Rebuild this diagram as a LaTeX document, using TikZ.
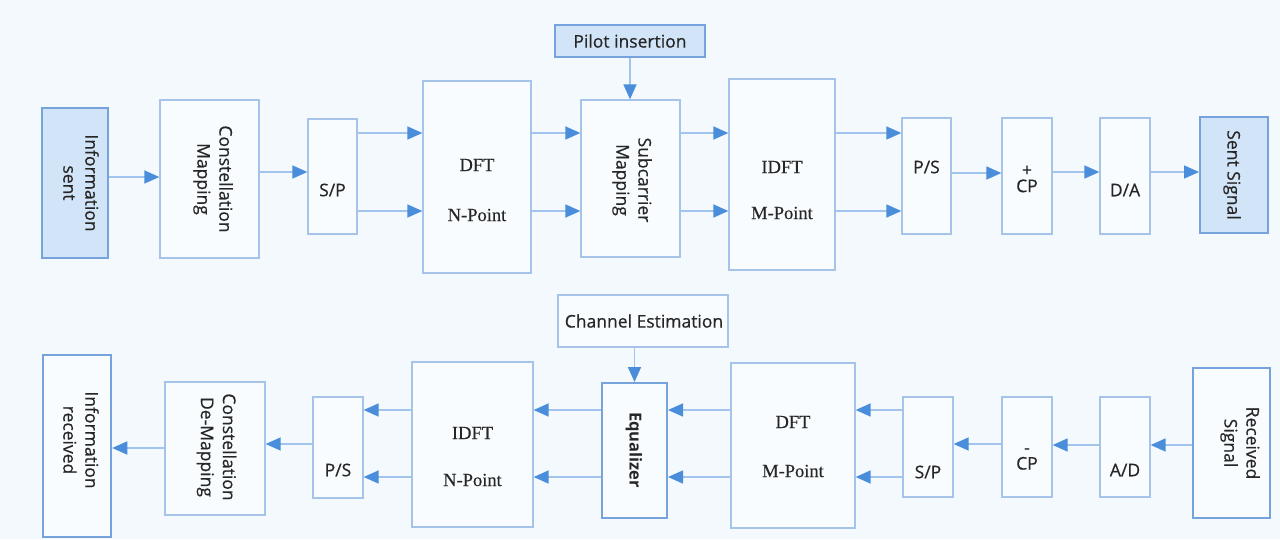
\documentclass[tikz,border=0pt]{standalone}
\usepackage{fontspec}
\setmainfont{Open Sans}
\newfontfamily\lblfont{Open Sans}[FakeBold=0.5]
\newfontfamily\serfont{Liberation Serif}[FakeBold=0.3]
\usetikzlibrary{arrows.meta}
\definecolor{bgc}{HTML}{F3F9FD}
\definecolor{boxfill}{HTML}{F8FCFF}
\definecolor{boxline}{HTML}{A6C4EA}
\definecolor{darkline}{HTML}{76A3DB}
\definecolor{accfill}{HTML}{D2E4F7}
\definecolor{linec}{HTML}{A3C4EC}
\definecolor{arrowc}{HTML}{4A8DDB}
\definecolor{txt}{HTML}{262626}
\tikzset{
  box/.style={draw=boxline, line width=1.3pt, fill=boxfill, inner sep=0pt},
  accbox/.style={draw=darkline, line width=2pt, fill=accfill, inner sep=0pt},
  strongbox/.style={draw=darkline, line width=2.5pt, fill=boxfill, inner sep=0pt},
  lbl/.style={text=txt, font=\lblfont\fontsize{17.5}{22}\selectfont, inner sep=0pt, align=center},
  slbl/.style={text=txt, font=\serfont\fontsize{18.5}{22}\selectfont, inner sep=0pt},
  arr/.style={draw=linec, line width=1.5pt, -{Triangle[length=15pt,width=13pt,color=arrowc]}}
}
\begin{document}
\begin{tikzpicture}[x=1pt,y=-1pt]
\fill[bgc] (0,0) rectangle (1280,539);
\useasboundingbox (0,0) rectangle (1280,539);

% ---------- top row ----------
\node[accbox, minimum width=66pt, minimum height=150pt] (info) at (75,183) {};
\node[box, minimum width=99pt, minimum height=158pt] (cmap) at (209.5,179) {};
\node[box, minimum width=49pt, minimum height=115pt] (sp1) at (332.5,176.5) {};
\node[box, minimum width=108pt, minimum height=192pt] (dft1) at (477,177) {};
\node[accbox, line width=1.3pt, minimum width=150pt, minimum height=32pt] (pilot) at (630,41) {};
\node[box, minimum width=99pt, minimum height=157pt] (sub) at (630.5,178.5) {};
\node[box, minimum width=106pt, minimum height=191pt] (idft1) at (782,174.5) {};
\node[box, minimum width=49pt, minimum height=116pt] (ps1) at (926.5,176) {};
\node[box, minimum width=50pt, minimum height=116pt] (cp1) at (1027,176) {};
\node[box, minimum width=50pt, minimum height=116pt] (da) at (1125,176) {};
\node[accbox, minimum width=68pt, minimum height=116pt] (sent) at (1234,175) {};

\node[lbl, rotate=-90] (tinfo) at (81,183) {Information\\sent};
\node[lbl, rotate=-90] (tcmap) at (213,179) {Constellation\\Mapping};
\node[lbl] (tsp1) at (332.5,190) {S/P};
\node[slbl] (tdft1a) at (477,165) {DFT};
\node[slbl] (tdft1b) at (477,215) {N-Point};
\node[lbl] (tpilot) at (630,41) {Pilot insertion};
\node[lbl, rotate=-90] (tsub) at (632,180) {Subcarrier\\Mapping};
\node[slbl] (tidft1a) at (782,167) {IDFT};
\node[slbl] (tidft1b) at (782,213) {M-Point};
\node[lbl] (tps1) at (926.5,167) {P/S};
\node[lbl] (tcp1) at (1027,179) {+\\[-6pt]CP};
\node[lbl] (tda) at (1125,190) {D/A};
\node[lbl, rotate=-90] (tsent) at (1232,175) {Sent Signal};

\draw[arr] (info.east |- 0,177) -- (cmap.west |- 0,177);
\draw[arr] (cmap.east |- 0,172) -- (sp1.west |- 0,172);
\foreach \yy in {133,211} {
  \draw[arr] (sp1.east |- 0,\yy) -- (dft1.west |- 0,\yy);
  \draw[arr] (dft1.east |- 0,\yy) -- (sub.west |- 0,\yy);
  \draw[arr] (sub.east |- 0,\yy) -- (idft1.west |- 0,\yy);
  \draw[arr] (idft1.east |- 0,\yy) -- (ps1.west |- 0,\yy);
}
\draw[arr] (ps1.east |- 0,173) -- (cp1.west |- 0,173);
\draw[arr] (cp1.east |- 0,172) -- (da.west |- 0,172);
\draw[arr] (da.east |- 0,172) -- (sent.west |- 0,172);
\draw[arr] (pilot.south) -- (sub.north -| pilot.south);

% ---------- bottom row ----------
\node[box, minimum width=170pt, minimum height=52pt] (chest) at (643,321) {};
\node[strongbox, minimum width=68pt, minimum height=182pt] (irec) at (77,446) {};
\node[box, minimum width=100pt, minimum height=133pt] (cdm) at (215,448.5) {};
\node[box, minimum width=50pt, minimum height=101pt] (ps2) at (338,447.5) {};
\node[box, minimum width=121pt, minimum height=165pt] (idft2) at (472.5,444.5) {};
\node[box, draw=darkline, line width=2pt, minimum width=65pt, minimum height=135pt] (eq) at (634.5,450.5) {};
\node[box, minimum width=124pt, minimum height=165pt] (dft2) at (793,445.5) {};
\node[box, minimum width=50pt, minimum height=100pt] (sp2) at (928,447) {};
\node[box, minimum width=50pt, minimum height=100pt] (cp2) at (1027,447) {};
\node[box, minimum width=50pt, minimum height=100pt] (ad) at (1125,447) {};
\node[strongbox, line width=2.2pt, minimum width=77pt, minimum height=150pt] (rec) at (1231.5,443) {};

\node[lbl] (tchest) at (644,321) {Channel Estimation};
\node[lbl, rotate=-90] (tirec) at (81,440) {Information\\received};
\node[lbl, rotate=-90] (tcdm) at (216.5,447) {Constellation\\De-Mapping};
\node[lbl] (tps2) at (338,470) {P/S};
\node[slbl] (tidft2a) at (472.5,433) {IDFT};
\node[slbl] (tidft2b) at (472.5,480) {N-Point};
\node[lbl, font=\bfseries\fontsize{16.5}{20}\selectfont, rotate=-90] (teq) at (634,450) {Equalizer};
\node[slbl] (tdft2a) at (793,422) {DFT};
\node[slbl] (tdft2b) at (793,471) {M-Point};
\node[lbl] (tsp2) at (928,472) {S/P};
\node[lbl] (tcp2) at (1027,459) {-\\[-6pt]CP};
\node[lbl] (tad) at (1125,470) {A/D};
\node[lbl, rotate=-90] (trec) at (1240,443) {Received\\Signal};

\draw[arr] (rec.west |- 0,445) -- (ad.east |- 0,445);
\draw[arr] (ad.west |- 0,445) -- (cp2.east |- 0,445);
\draw[arr] (cp2.west |- 0,444) -- (sp2.east |- 0,444);
\foreach \yy in {410,477} {
  \draw[arr] (sp2.west |- 0,\yy) -- (dft2.east |- 0,\yy);
  \draw[arr] (dft2.west |- 0,\yy) -- (eq.east |- 0,\yy);
  \draw[arr] (eq.west |- 0,\yy) -- (idft2.east |- 0,\yy);
  \draw[arr] (idft2.west |- 0,\yy) -- (ps2.east |- 0,\yy);
}
\draw[arr] (ps2.west |- 0,444) -- (cdm.east |- 0,444);
\draw[arr] (cdm.west |- 0,448) -- (irec.east |- 0,448);
\draw[arr] (chest.south -| eq.north) -- (eq.north);
\end{tikzpicture}
\end{document}
